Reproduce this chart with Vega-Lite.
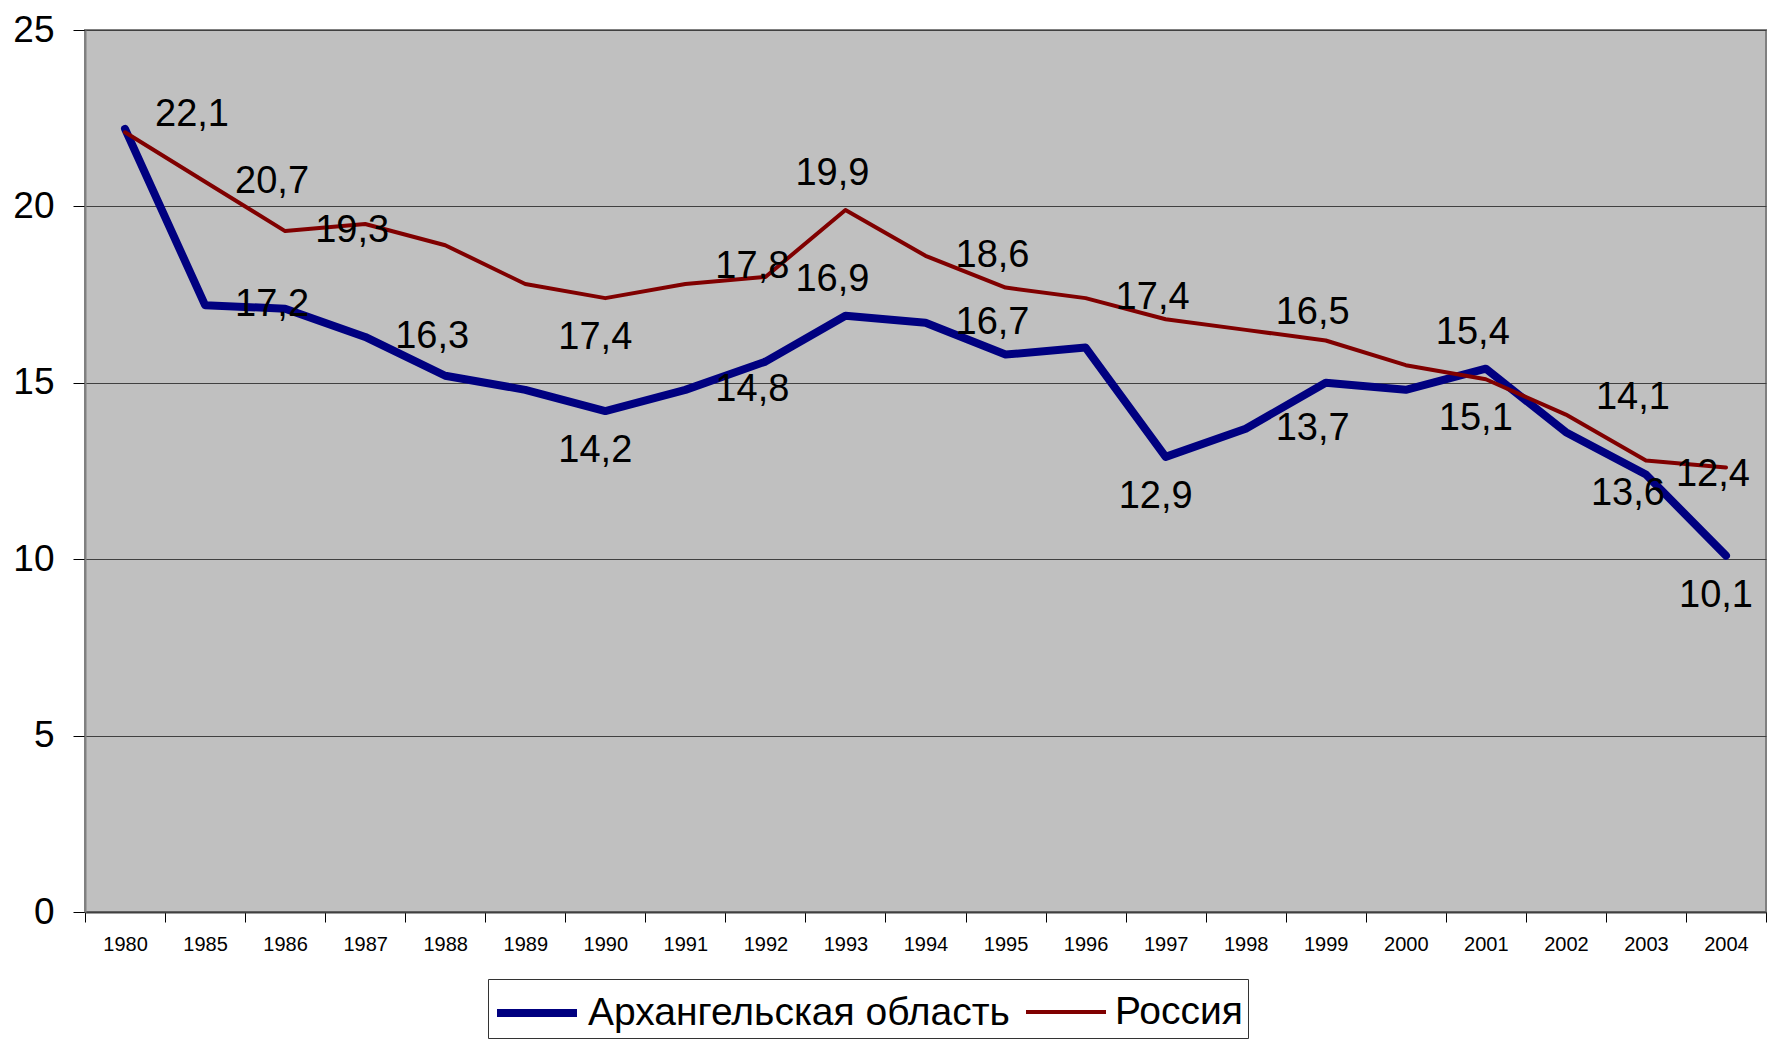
{
  "$schema": "https://vega.github.io/schema/vega-lite/v6.json",
  "width": 1681,
  "height": 882,
  "autosize": {"type": "none"},
  "padding": {"left": 85, "top": 30, "right": 11, "bottom": 134},
  "background": "white",
  "config": {
    "font": "Liberation Sans",
    "view": {"fill": "#C0C0C0", "stroke": "#808080", "strokeWidth": 2},
    "locale": {"number": {"decimal": ",", "thousands": " ", "grouping": [3], "currency": ["", ""]}}
  },
  "data": {
    "values": [
      {"year": "1980", "series": "Архангельская область", "value": 22.2, "labelSide": null},
      {"year": "1985", "series": "Архангельская область", "value": 17.2, "labelSide": "right"},
      {"year": "1986", "series": "Архангельская область", "value": 17.1, "labelSide": null},
      {"year": "1987", "series": "Архангельская область", "value": 16.3, "labelSide": "right"},
      {"year": "1988", "series": "Архангельская область", "value": 15.2, "labelSide": null},
      {"year": "1989", "series": "Архангельская область", "value": 14.8, "labelSide": null},
      {"year": "1990", "series": "Архангельская область", "value": 14.2, "labelSide": "below"},
      {"year": "1991", "series": "Архангельская область", "value": 14.8, "labelSide": "right"},
      {"year": "1992", "series": "Архангельская область", "value": 15.6, "labelSide": null},
      {"year": "1993", "series": "Архангельская область", "value": 16.9, "labelSide": "above"},
      {"year": "1994", "series": "Архангельская область", "value": 16.7, "labelSide": "right"},
      {"year": "1995", "series": "Архангельская область", "value": 15.8, "labelSide": null},
      {"year": "1996", "series": "Архангельская область", "value": 16.0, "labelSide": null},
      {"year": "1997", "series": "Архангельская область", "value": 12.9, "labelSide": "below"},
      {"year": "1998", "series": "Архангельская область", "value": 13.7, "labelSide": "right"},
      {"year": "1999", "series": "Архангельская область", "value": 15.0, "labelSide": null},
      {"year": "2000", "series": "Архангельская область", "value": 14.8, "labelSide": null},
      {"year": "2001", "series": "Архангельская область", "value": 15.4, "labelSide": "above"},
      {"year": "2002", "series": "Архангельская область", "value": 13.6, "labelSide": "belowright"},
      {"year": "2003", "series": "Архангельская область", "value": 12.4, "labelSide": "right"},
      {"year": "2004", "series": "Архангельская область", "value": 10.1, "labelSide": "below"},
      {"year": "1980", "series": "Россия", "value": 22.1, "labelSide": "aboveright"},
      {"year": "1985", "series": "Россия", "value": 20.7, "labelSide": "right"},
      {"year": "1986", "series": "Россия", "value": 19.3, "labelSide": "right"},
      {"year": "1987", "series": "Россия", "value": 19.5, "labelSide": null},
      {"year": "1988", "series": "Россия", "value": 18.9, "labelSide": null},
      {"year": "1989", "series": "Россия", "value": 17.8, "labelSide": null},
      {"year": "1990", "series": "Россия", "value": 17.4, "labelSide": "below"},
      {"year": "1991", "series": "Россия", "value": 17.8, "labelSide": "aboveright"},
      {"year": "1992", "series": "Россия", "value": 18.0, "labelSide": null},
      {"year": "1993", "series": "Россия", "value": 19.9, "labelSide": "above"},
      {"year": "1994", "series": "Россия", "value": 18.6, "labelSide": "right"},
      {"year": "1995", "series": "Россия", "value": 17.7, "labelSide": null},
      {"year": "1996", "series": "Россия", "value": 17.4, "labelSide": "right"},
      {"year": "1997", "series": "Россия", "value": 16.8, "labelSide": null},
      {"year": "1998", "series": "Россия", "value": 16.5, "labelSide": "aboveright"},
      {"year": "1999", "series": "Россия", "value": 16.2, "labelSide": null},
      {"year": "2000", "series": "Россия", "value": 15.5, "labelSide": null},
      {"year": "2001", "series": "Россия", "value": 15.1, "labelSide": "below"},
      {"year": "2002", "series": "Россия", "value": 14.1, "labelSide": "aboveright"},
      {"year": "2003", "series": "Россия", "value": 12.8, "labelSide": null},
      {"year": "2004", "series": "Россия", "value": 12.6, "labelSide": null}
    ]
  },
  "encoding": {
    "x": {
      "field": "year",
      "type": "ordinal",
      "scale": {"type": "band", "paddingInner": 0, "paddingOuter": 0},
      "axis": {
        "title": null,
        "labelAngle": 0,
        "tickBand": "extent",
        "labelFont": "Liberation Sans",
        "labelFontSize": 20,
        "labelColor": "#000",
        "labelPadding": 12,
        "tickSize": 10,
        "tickColor": "#000",
        "domainColor": "#404040",
        "domainWidth": 2,
        "grid": false
      }
    },
    "y": {
      "field": "value",
      "type": "quantitative",
      "scale": {"domain": [0, 25], "nice": false},
      "axis": {
        "title": null,
        "values": [0, 5, 10, 15, 20, 25],
        "labelFontSize": 37,
        "labelColor": "#000",
        "labelPadding": 19,
        "tickSize": 12,
        "tickColor": "#000",
        "domainColor": "#808080",
        "domainWidth": 2,
        "grid": true,
        "gridColor": "#404040",
        "gridWidth": 1
      }
    }
  },
  "layer": [
    {
      "mark": {"type": "line", "strokeJoin": "round", "strokeCap": "round"},
      "encoding": {
        "color": {
          "field": "series",
          "type": "nominal",
          "scale": {"domain": ["Архангельская область", "Россия"], "range": ["#000080", "#800000"]},
          "legend": {
            "title": null,
            "orient": "none",
            "legendX": 403,
            "legendY": 949,
            "direction": "horizontal",
            "symbolType": "M-1,0H2.2",
            "symbolSize": 2500,
            "labelFontSize": 39,
            "labelColor": "#000",
            "labelLimit": 800,
            "labelOffset": 37,
            "columnPadding": 8,
            "padding": 5,
            "strokeColor": "#333",
            "fillColor": "white"
          }
        },
        "strokeWidth": {
          "field": "series",
          "type": "nominal",
          "scale": {"domain": ["Архангельская область", "Россия"], "range": [8, 4]}
        }
      }
    },
    {
      "transform": [{"filter": "datum.labelSide == 'right'"}],
      "mark": {"type": "text", "fontSize": 38, "color": "#000", "dx": 67, "dy": 0, "align": "center", "baseline": "middle"},
      "encoding": {"text": {"field": "value", "type": "quantitative", "format": ".1f"}}
    },
    {
      "transform": [{"filter": "datum.labelSide == 'aboveright'"}],
      "mark": {"type": "text", "fontSize": 38, "color": "#000", "dx": 67, "dy": -17, "align": "center", "baseline": "middle"},
      "encoding": {"text": {"field": "value", "type": "quantitative", "format": ".1f"}}
    },
    {
      "transform": [{"filter": "datum.labelSide == 'belowright'"}],
      "mark": {"type": "text", "fontSize": 38, "color": "#000", "dx": 62, "dy": 62, "align": "center", "baseline": "middle"},
      "encoding": {"text": {"field": "value", "type": "quantitative", "format": ".1f"}}
    },
    {
      "transform": [{"filter": "datum.labelSide == 'above'"}],
      "mark": {"type": "text", "fontSize": 38, "color": "#000", "dx": -13, "dy": -36, "align": "center", "baseline": "middle"},
      "encoding": {"text": {"field": "value", "type": "quantitative", "format": ".1f"}}
    },
    {
      "transform": [{"filter": "datum.labelSide == 'below'"}],
      "mark": {"type": "text", "fontSize": 38, "color": "#000", "dx": -10, "dy": 40, "align": "center", "baseline": "middle"},
      "encoding": {"text": {"field": "value", "type": "quantitative", "format": ".1f"}}
    }
  ]
}
